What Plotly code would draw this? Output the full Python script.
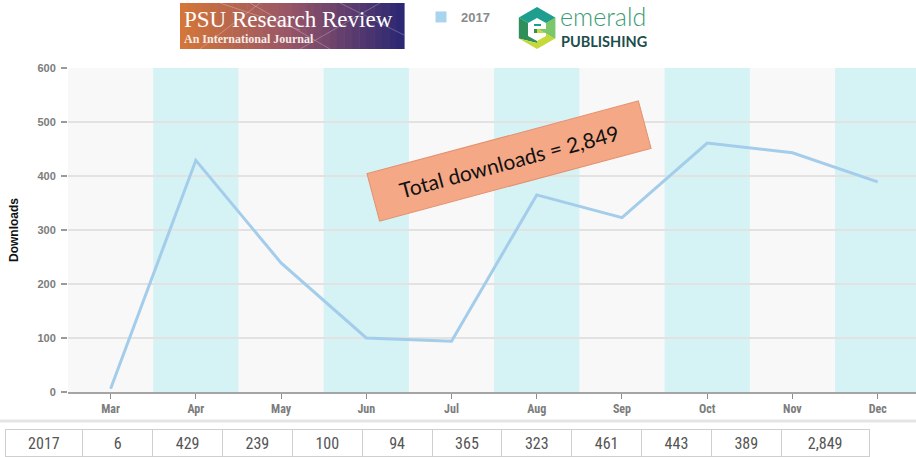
import plotly.graph_objects as go
import math

# ---- data ----
months = ["Mar", "Apr", "May", "Jun", "Jul", "Aug", "Sep", "Oct", "Nov", "Dec"]
downloads = [6, 429, 239, 100, 94, 365, 323, 461, 443, 389]
series_name = "2017"
y_ticks = [0, 100, 200, 300, 400, 500, 600]

total = sum(downloads)

W, H = 916, 457
def px(x):
    return x / W
def py(y):
    return 1 - y / H

NARROW = "Liberation Sans Narrow, Arial Narrow, Roboto Condensed, Liberation Sans, sans-serif"

fig = go.Figure()

fig.add_trace(go.Scatter(
    x=months, y=downloads, mode="lines",
    line=dict(color="#a3cdea", width=3),
    showlegend=False, hoverinfo="x+y",
))
# legend entry (square swatch)
fig.add_trace(go.Scatter(
    x=[None], y=[None], mode="markers", name=series_name,
    marker=dict(symbol="square", size=11, color="#a9d4ee"),
    showlegend=True,
))

# ---- table below the chart ----
header_vals = [series_name] + [str(v) for v in downloads] + [f"{total:,}"]
col_w = [78] + [70] * len(downloads) + [88]
fig.add_trace(go.Table(
    domain=dict(x=[px(5), px(869)], y=[0, 28 / H]),
    columnwidth=col_w,
    header=dict(values=[[v] for v in header_vals], height=27,
                fill_color="white", line=dict(color="#cfcfcf", width=1),
                align="center",
                font=dict(family=NARROW, size=16, color="#555555")),
    cells=dict(values=[[] for _ in header_vals], height=0),
))

shapes = []
# alternating column bands
for i in range(len(months)):
    if i % 2 == 1:
        shapes.append(dict(type="rect", xref="x", yref="y domain",
                           x0=i - 0.5, x1=i + 0.5, y0=0, y1=1,
                           fillcolor="#d5f2f5", line=dict(width=0), layer="below"))
# separator line above table
shapes.append(dict(type="line", xref="paper", yref="paper", x0=0, x1=1,
                   y0=py(421), y1=py(421), line=dict(color="#e4e4e4", width=3)))

# PSU logo gradient box
n = 30
c0 = (212, 118, 58)
c1 = (150, 85, 105)
c2 = (45, 40, 115)
x_left, x_right = 180, 404
for k in range(n):
    t = k / (n - 1)
    if t < 0.5:
        u = t / 0.5
        c = tuple(int(c0[j] + (c1[j] - c0[j]) * u) for j in range(3))
    else:
        u = (t - 0.5) / 0.5
        c = tuple(int(c1[j] + (c2[j] - c1[j]) * u) for j in range(3))
    xa = x_left + (x_right - x_left) * k / n
    xb = x_left + (x_right - x_left) * (k + 1) / n + 0.6
    shapes.append(dict(type="rect", xref="paper", yref="paper",
                       x0=px(xa), x1=px(xb), y0=py(49), y1=py(3),
                       fillcolor=f"rgb{c}", line=dict(width=0)))
# faint network lines on logo
for (xa, ya, xb, yb) in [(200, 49, 260, 3), (250, 3, 330, 49), (300, 49, 380, 3), (340, 3, 404, 35), (220, 3, 300, 30)]:
    shapes.append(dict(type="line", xref="paper", yref="paper",
                       x0=px(xa), y0=py(ya), x1=px(xb), y1=py(yb),
                       line=dict(color="rgba(255,255,255,0.25)", width=1)))

# Emerald hexagon icon
cx, cy, r = 537, 28, 21
hv = []
for ang in [90, 30, -30, -90, -150, 150]:
    a = math.radians(ang)
    hv.append((cx + r * math.cos(a), cy - r * math.sin(a)))
def path(points):
    return "M " + " L ".join(f"{px(x)},{py(y)}" for x, y in points) + " Z"
top, ur, lr, bot, ll, ul = hv
C = (cx, cy)
shapes.append(dict(type="path", xref="paper", yref="paper", path=path([top, ur, lr, C, ul]),
                   fillcolor="#1e9e8e", line=dict(width=0)))
shapes.append(dict(type="path", xref="paper", yref="paper", path=path([ul, C, (cx, bot[1] - 6), ll]),
                   fillcolor="#2f8f5a", line=dict(width=0)))
shapes.append(dict(type="path", xref="paper", yref="paper", path=path([ll, (cx, bot[1] - 6), C, lr, bot]),
                   fillcolor="#c6d93a", line=dict(width=0)))
shapes.append(dict(type="path", xref="paper", yref="paper", path=path([C, ur, lr]),
                   fillcolor="#7cc76a", line=dict(width=0)))
# white "e" cut
shapes.append(dict(type="path", xref="paper", yref="paper",
                   path=path([(cx, cy - 10), (cx + 9, cy - 5), (cx + 9, cy + 1), (cx - 3, cy + 1),
                              (cx - 3, cy + 5), (cx + 9, cy + 5), (cx + 9, cy + 8), (cx, cy + 13),
                              (cx - 9, cy + 8), (cx - 9, cy - 5)]),
                   fillcolor="white", line=dict(width=0)))
shapes.append(dict(type="path", xref="paper", yref="paper",
                   path=path([(cx - 3, cy - 4), (cx + 4, cy - 4), (cx + 4, cy - 2), (cx - 3, cy - 2)]),
                   fillcolor="#1e9e8e", line=dict(width=0)))

annotations = [
    dict(text="Total downloads = 2,849", xref="paper", yref="paper",
         x=px(509), y=py(161), xanchor="center", yanchor="middle", showarrow=False,
         textangle=-15, bgcolor="#f4a886", bordercolor="#e39270", borderwidth=1,
         borderpad=9, width=262, height=30,
         font=dict(family="Lato, Open Sans, sans-serif", size=21, color="#111111")),
    dict(text="<b>Downloads</b>", xref="paper", yref="paper",
         x=px(14), y=py(230), xanchor="center", yanchor="middle", showarrow=False,
         textangle=-90, font=dict(family="Liberation Sans, Arial, sans-serif", size=12, color="#111111")),
    dict(text="PSU Research Review", xref="paper", yref="paper",
         x=px(182), y=py(19), xanchor="left", yanchor="middle", showarrow=False,
         font=dict(family="Liberation Serif, DejaVu Serif, serif", size=23, color="white")),
    dict(text="<b>An International Journal</b>", xref="paper", yref="paper",
         x=px(182), y=py(39), xanchor="left", yanchor="middle", showarrow=False,
         font=dict(family="Liberation Serif, DejaVu Serif, serif", size=12, color="#f3ece8")),
    dict(text="emerald", xref="paper", yref="paper",
         x=px(559), y=py(16), xanchor="left", yanchor="middle", showarrow=False,
         height=20, borderpad=0,
         font=dict(family="Lato, Open Sans, sans-serif", size=25, color="#3a9c72", weight=300)),
    dict(text="<b>PUBLISHING</b>", xref="paper", yref="paper",
         x=px(560), y=py(40.5), xanchor="left", yanchor="middle", showarrow=False,
         height=14, borderpad=0,
         font=dict(family="Lato, Open Sans, sans-serif", size=14.5, color="#1d4d4c")),
]

fig.update_layout(
    width=W, height=H,
    margin=dict(l=0, r=0, t=0, b=0),
    paper_bgcolor="white",
    plot_bgcolor="#f8f8f8",
    shapes=shapes,
    annotations=annotations,
    legend=dict(x=px(421), y=py(17), xanchor="left", yanchor="middle",
                orientation="h", bgcolor="rgba(0,0,0,0)",
                font=dict(family="Liberation Sans, Arial, sans-serif", size=13, color="#8a8a8a", weight="bold"),
                itemwidth=30),
    xaxis=dict(
        type="category", categoryorder="array", categoryarray=months,
        domain=[px(68), 1], range=[-0.5, 9.45],
        showgrid=False, zeroline=False,
        showline=True, linecolor="#a5a5a5", linewidth=2,
        ticks="outside", ticklen=5, tickcolor="#8c8c8c", tickwidth=1,
        tickfont=dict(family=NARROW, size=12, color="#7c7c7c", weight="bold"),
        automargin=False, fixedrange=True,
    ),
    yaxis=dict(
        domain=[65 / H, 389 / H], range=[0, 600],
        tickvals=y_ticks,
        showgrid=True, gridcolor="#e2e2e2", gridwidth=1.5,
        zeroline=False, showline=False,
        ticks="outside", ticklen=6, tickcolor="#9a9a9a", tickwidth=1.5,
        ticklabelstandoff=3,
        tickfont=dict(family="Liberation Sans, Arial, sans-serif", size=11, color="#7c7c7c", weight="bold"),
        automargin=False, fixedrange=True,
    ),
)

fig.write_html("out.html", config={"displayModeBar": False},
               post_script="document.body.style.margin='0';document.body.style.overflow='hidden';")
